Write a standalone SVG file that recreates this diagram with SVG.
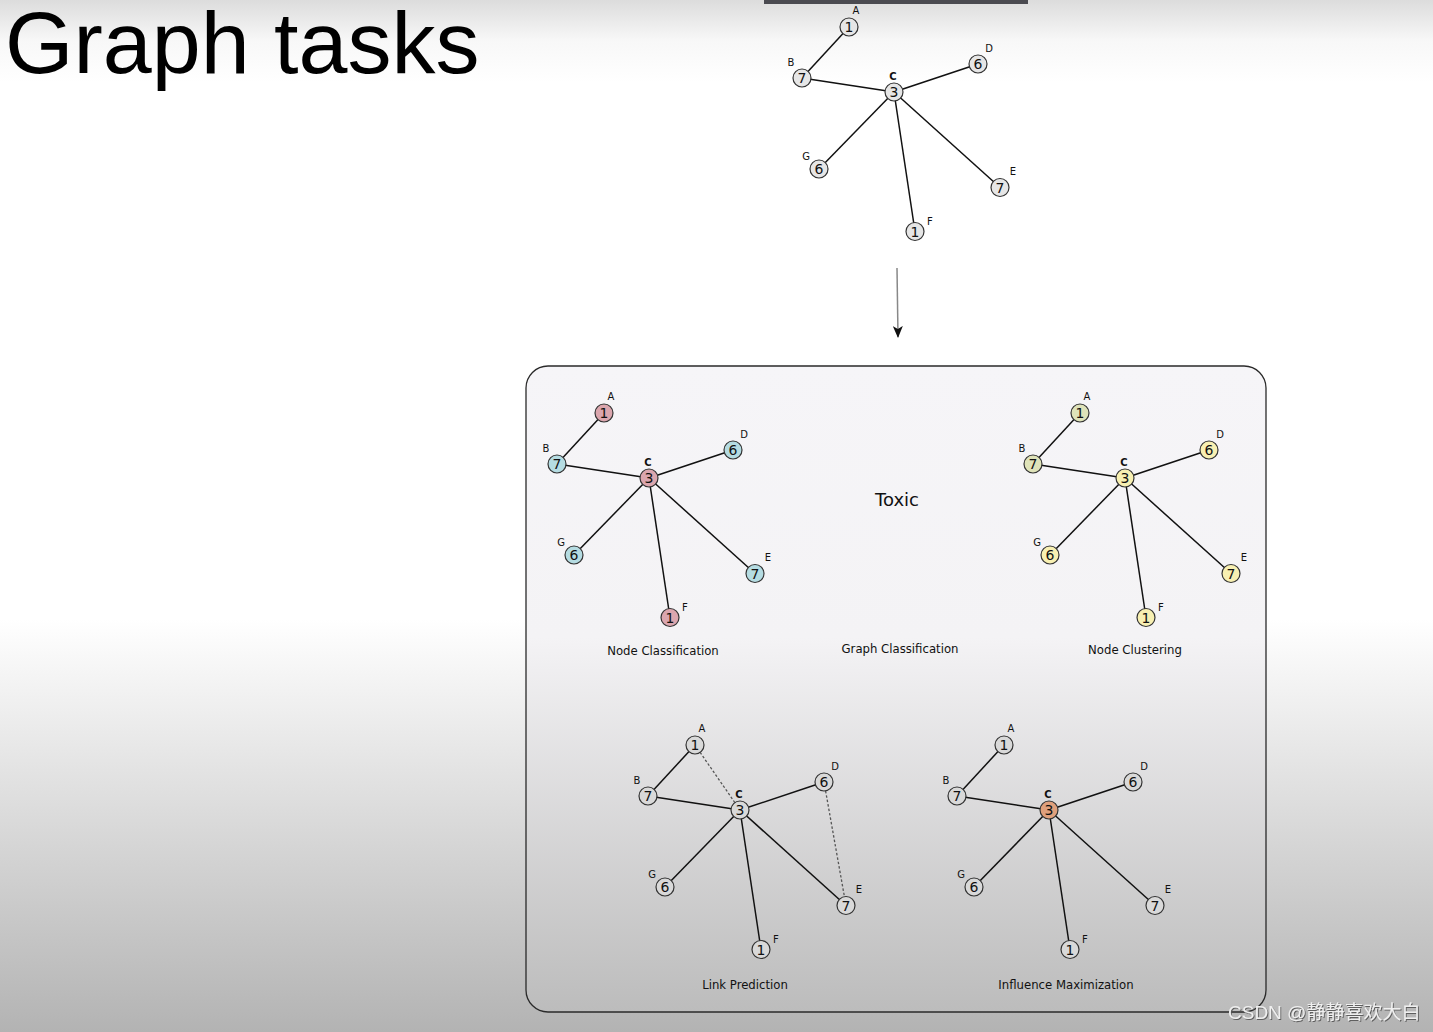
<svg xmlns="http://www.w3.org/2000/svg" width="1433" height="1032" viewBox="0 0 1433 1032">
<defs>
<linearGradient id="bg" gradientUnits="userSpaceOnUse" x1="0" y1="0" x2="0" y2="1032">
<stop offset="0" stop-color="#dcdcdc"/>
<stop offset="0.04" stop-color="#f8f8f8"/>
<stop offset="0.08" stop-color="#ffffff"/>
<stop offset="0.6" stop-color="#ffffff"/>
<stop offset="1" stop-color="#b3b3b3"/>
</linearGradient>
<linearGradient id="boxg" gradientUnits="userSpaceOnUse" x1="0" y1="366" x2="0" y2="1012">
<stop offset="0" stop-color="#f6f5f8"/>
<stop offset="0.42" stop-color="#f4f3f5"/>
<stop offset="1" stop-color="#bcbcbc"/>
</linearGradient>
<marker id="arr" markerWidth="12" markerHeight="10" refX="11" refY="5" orient="auto" markerUnits="userSpaceOnUse" viewBox="0 0 12 10">
<path d="M0,0 L12,5 L0,10 L3,5 Z" fill="#111"/>
</marker>
<filter id="sh" x="-10%" y="-30%" width="120%" height="160%">
<feDropShadow dx="1" dy="1" stdDeviation="0.6" flood-color="#555" flood-opacity="0.9"/>
</filter>
</defs>
<style>
.e{stroke:#111;stroke-width:1.5;fill:none}
.d{stroke:#555;stroke-width:1.3;stroke-dasharray:2.5 2;fill:none}
.n{stroke:#333;stroke-width:1.2}
.num{font-family:"DejaVu Sans",sans-serif;font-size:14px;text-anchor:middle;fill:#111}
.lbl{font-family:"DejaVu Sans",sans-serif;font-size:10px;text-anchor:middle;fill:#111}
.lc{font-weight:bold}
.cap{font-family:"DejaVu Sans",sans-serif;font-size:11.7px;text-anchor:middle;fill:#111}
.g0{fill:#e6e6e6}
.g1{fill:#d9d9d9}
.pk{fill:#dba6ae}
.bl{fill:#b5dce2}
.gr{fill:#dfe3b9}
.ye{fill:#f8f0b2}
.or{fill:#e0a07c}
</style>
<rect x="0" y="0" width="1433" height="1032" fill="url(#bg)"/>
<rect x="764" y="0" width="264" height="4" fill="#4a4a50"/>
<text x="5" y="73" font-family="Liberation Sans, Arial, sans-serif" font-size="88" fill="#000">Graph tasks</text>

<rect id="tasks-box" x="526" y="366" width="740" height="646" rx="22" ry="22" fill="url(#boxg)" stroke="#2a2a2a" stroke-width="1.3"/>

<g id="connectors">
<line x1="897" y1="268" x2="898" y2="337" stroke="#888" stroke-width="1.5" marker-end="url(#arr)"/>
</g>

<!-- Top graph -->
<g id="top-graph">
<g class="edges">
<line class="e" x1="849" y1="27" x2="802" y2="78"/>
<line class="e" x1="802" y1="78" x2="894" y2="92"/>
<line class="e" x1="894" y1="92" x2="978" y2="64"/>
<line class="e" x1="894" y1="92" x2="819" y2="169"/>
<line class="e" x1="894" y1="92" x2="1000" y2="187.5"/>
<line class="e" x1="894" y1="92" x2="915" y2="231.5"/>
</g>
<g id="top-A"><circle class="n g0" cx="849" cy="27" r="9"/><text class="num" x="849" y="32">1</text><text class="lbl" x="856" y="14">A</text></g>
<g id="top-B"><circle class="n g0" cx="802" cy="78" r="9"/><text class="num" x="802" y="83">7</text><text class="lbl" x="791" y="66">B</text></g>
<g id="top-C"><circle class="n g0" cx="894" cy="92" r="9"/><text class="num" x="894" y="97">3</text><text class="lbl lc" x="893" y="80">C</text></g>
<g id="top-D"><circle class="n g0" cx="978" cy="64" r="9"/><text class="num" x="978" y="69">6</text><text class="lbl" x="989" y="52">D</text></g>
<g id="top-G"><circle class="n g0" cx="819" cy="169" r="9"/><text class="num" x="819" y="174">6</text><text class="lbl" x="806" y="160">G</text></g>
<g id="top-E"><circle class="n g0" cx="1000" cy="187.5" r="9"/><text class="num" x="1000" y="192.5">7</text><text class="lbl" x="1013" y="175">E</text></g>
<g id="top-F"><circle class="n g0" cx="915" cy="231.5" r="9"/><text class="num" x="915" y="236.5">1</text><text class="lbl" x="930" y="225">F</text></g>
</g>

<!-- Node Classification -->
<g id="node-classification" transform="translate(-245,386)">
<g class="edges">
<line class="e" x1="849" y1="27" x2="802" y2="78"/>
<line class="e" x1="802" y1="78" x2="894" y2="92"/>
<line class="e" x1="894" y1="92" x2="978" y2="64"/>
<line class="e" x1="894" y1="92" x2="819" y2="169"/>
<line class="e" x1="894" y1="92" x2="1000" y2="187.5"/>
<line class="e" x1="894" y1="92" x2="915" y2="231.5"/>
</g>
<g id="nc-A"><circle class="n pk" cx="849" cy="27" r="9"/><text class="num" x="849" y="32">1</text><text class="lbl" x="856" y="14">A</text></g>
<g id="nc-B"><circle class="n bl" cx="802" cy="78" r="9"/><text class="num" x="802" y="83">7</text><text class="lbl" x="791" y="66">B</text></g>
<g id="nc-C"><circle class="n pk" cx="894" cy="92" r="9"/><text class="num" x="894" y="97">3</text><text class="lbl lc" x="893" y="80">C</text></g>
<g id="nc-D"><circle class="n bl" cx="978" cy="64" r="9"/><text class="num" x="978" y="69">6</text><text class="lbl" x="989" y="52">D</text></g>
<g id="nc-G"><circle class="n bl" cx="819" cy="169" r="9"/><text class="num" x="819" y="174">6</text><text class="lbl" x="806" y="160">G</text></g>
<g id="nc-E"><circle class="n bl" cx="1000" cy="187.5" r="9"/><text class="num" x="1000" y="192.5">7</text><text class="lbl" x="1013" y="175">E</text></g>
<g id="nc-F"><circle class="n pk" cx="915" cy="231.5" r="9"/><text class="num" x="915" y="236.5">1</text><text class="lbl" x="930" y="225">F</text></g>
<text class="cap" x="908" y="269">Node Classification</text>
</g>

<!-- Graph Classification -->
<g id="graph-classification">
<text x="897" y="506" font-family="DejaVu Sans, sans-serif" font-size="18" text-anchor="middle" fill="#111">Toxic</text>
<text class="cap" x="900" y="653">Graph Classification</text>
</g>

<!-- Node Clustering -->
<g id="node-clustering" transform="translate(231,386)">
<g class="edges">
<line class="e" x1="849" y1="27" x2="802" y2="78"/>
<line class="e" x1="802" y1="78" x2="894" y2="92"/>
<line class="e" x1="894" y1="92" x2="978" y2="64"/>
<line class="e" x1="894" y1="92" x2="819" y2="169"/>
<line class="e" x1="894" y1="92" x2="1000" y2="187.5"/>
<line class="e" x1="894" y1="92" x2="915" y2="231.5"/>
</g>
<g id="cl-A"><circle class="n gr" cx="849" cy="27" r="9"/><text class="num" x="849" y="32">1</text><text class="lbl" x="856" y="14">A</text></g>
<g id="cl-B"><circle class="n gr" cx="802" cy="78" r="9"/><text class="num" x="802" y="83">7</text><text class="lbl" x="791" y="66">B</text></g>
<g id="cl-C"><circle class="n ye" cx="894" cy="92" r="9"/><text class="num" x="894" y="97">3</text><text class="lbl lc" x="893" y="80">C</text></g>
<g id="cl-D"><circle class="n ye" cx="978" cy="64" r="9"/><text class="num" x="978" y="69">6</text><text class="lbl" x="989" y="52">D</text></g>
<g id="cl-G"><circle class="n ye" cx="819" cy="169" r="9"/><text class="num" x="819" y="174">6</text><text class="lbl" x="806" y="160">G</text></g>
<g id="cl-E"><circle class="n ye" cx="1000" cy="187.5" r="9"/><text class="num" x="1000" y="192.5">7</text><text class="lbl" x="1013" y="175">E</text></g>
<g id="cl-F"><circle class="n ye" cx="915" cy="231.5" r="9"/><text class="num" x="915" y="236.5">1</text><text class="lbl" x="930" y="225">F</text></g>
<text class="cap" x="904" y="268">Node Clustering</text>
</g>

<!-- Link Prediction -->
<g id="link-prediction" transform="translate(-154,718)">
<g class="edges">
<line class="e" x1="849" y1="27" x2="802" y2="78"/>
<line class="e" x1="802" y1="78" x2="894" y2="92"/>
<line class="e" x1="894" y1="92" x2="978" y2="64"/>
<line class="e" x1="894" y1="92" x2="819" y2="169"/>
<line class="e" x1="894" y1="92" x2="1000" y2="187.5"/>
<line class="e" x1="894" y1="92" x2="915" y2="231.5"/>
<line class="d" x1="849" y1="27" x2="894" y2="92"/>
<line class="d" x1="978" y1="64" x2="1000" y2="187.5"/>
</g>
<g id="lp-A"><circle class="n g1" cx="849" cy="27" r="9"/><text class="num" x="849" y="32">1</text><text class="lbl" x="856" y="14">A</text></g>
<g id="lp-B"><circle class="n g1" cx="802" cy="78" r="9"/><text class="num" x="802" y="83">7</text><text class="lbl" x="791" y="66">B</text></g>
<g id="lp-C"><circle class="n g1" cx="894" cy="92" r="9"/><text class="num" x="894" y="97">3</text><text class="lbl lc" x="893" y="80">C</text></g>
<g id="lp-D"><circle class="n g1" cx="978" cy="64" r="9"/><text class="num" x="978" y="69">6</text><text class="lbl" x="989" y="52">D</text></g>
<g id="lp-G"><circle class="n g1" cx="819" cy="169" r="9"/><text class="num" x="819" y="174">6</text><text class="lbl" x="806" y="160">G</text></g>
<g id="lp-E"><circle class="n g1" cx="1000" cy="187.5" r="9"/><text class="num" x="1000" y="192.5">7</text><text class="lbl" x="1013" y="175">E</text></g>
<g id="lp-F"><circle class="n g1" cx="915" cy="231.5" r="9"/><text class="num" x="915" y="236.5">1</text><text class="lbl" x="930" y="225">F</text></g>
<text class="cap" x="899" y="271">Link Prediction</text>
</g>

<!-- Influence Maximization -->
<g id="influence-maximization" transform="translate(155,718)">
<g class="edges">
<line class="e" x1="849" y1="27" x2="802" y2="78"/>
<line class="e" x1="802" y1="78" x2="894" y2="92"/>
<line class="e" x1="894" y1="92" x2="978" y2="64"/>
<line class="e" x1="894" y1="92" x2="819" y2="169"/>
<line class="e" x1="894" y1="92" x2="1000" y2="187.5"/>
<line class="e" x1="894" y1="92" x2="915" y2="231.5"/>
</g>
<g id="im-A"><circle class="n g1" cx="849" cy="27" r="9"/><text class="num" x="849" y="32">1</text><text class="lbl" x="856" y="14">A</text></g>
<g id="im-B"><circle class="n g1" cx="802" cy="78" r="9"/><text class="num" x="802" y="83">7</text><text class="lbl" x="791" y="66">B</text></g>
<g id="im-C"><circle class="n or" cx="894" cy="92" r="9"/><text class="num" x="894" y="97">3</text><text class="lbl lc" x="893" y="80">C</text></g>
<g id="im-D"><circle class="n g1" cx="978" cy="64" r="9"/><text class="num" x="978" y="69">6</text><text class="lbl" x="989" y="52">D</text></g>
<g id="im-G"><circle class="n g1" cx="819" cy="169" r="9"/><text class="num" x="819" y="174">6</text><text class="lbl" x="806" y="160">G</text></g>
<g id="im-E"><circle class="n g1" cx="1000" cy="187.5" r="9"/><text class="num" x="1000" y="192.5">7</text><text class="lbl" x="1013" y="175">E</text></g>
<g id="im-F"><circle class="n g1" cx="915" cy="231.5" r="9"/><text class="num" x="915" y="236.5">1</text><text class="lbl" x="930" y="225">F</text></g>
<text class="cap" x="911" y="271">Influence Maximization</text>
</g>

<text x="1228" y="1019" font-family="Liberation Sans, Noto Sans CJK SC, sans-serif" font-size="19" fill="#efefef" filter="url(#sh)">CSDN @静静喜欢大白</text>
</svg>
